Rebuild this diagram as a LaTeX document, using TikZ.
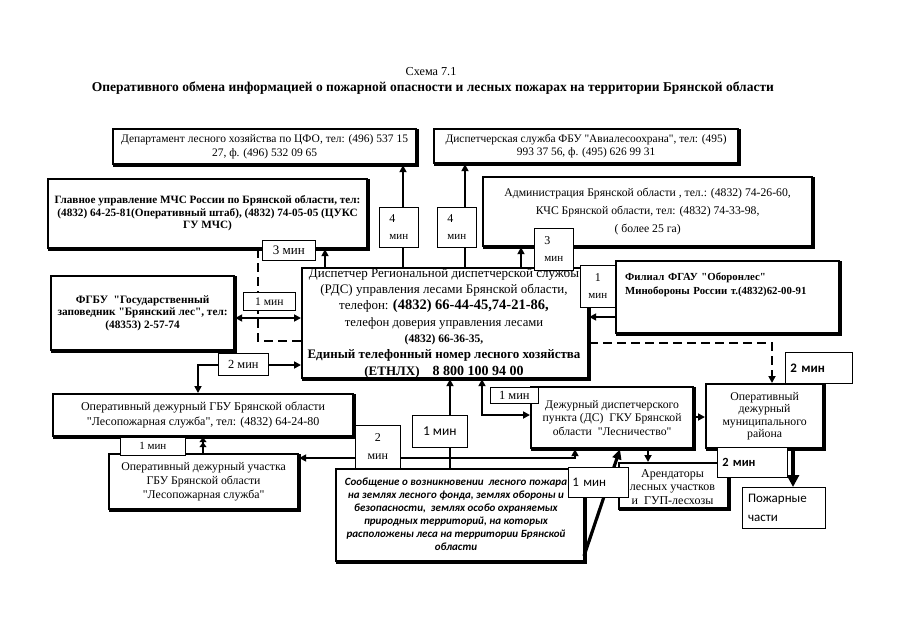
\documentclass[tikz,border=0pt]{standalone}
\usepackage{fontspec}
\setmainfont{Liberation Serif}[Ligatures=TeXOff]
\newfontfamily\carl{Carlito}[Ligatures=TeXOff]
\usetikzlibrary{arrows.meta}
\newcommand\fs[2]{\fontsize{#1}{#2}\selectfont}
\begin{document}
\begin{tikzpicture}[x=1pt,y=-1pt,
  box/.style={draw, line width=2.2pt, fill=white, anchor=north west, inner sep=1pt, align=center,
    preaction={draw, line width=2.2pt, transform canvas={shift={(1.4pt,-1.4pt)}}}},
  thinbox/.style={draw, line width=1.2pt, fill=white, anchor=north west, inner sep=1pt, align=left},
  lab/.style={draw, line width=0.7pt, fill=white, anchor=north west, inner sep=0pt, align=center},
  conn/.style={line width=1.7pt, -{Triangle[length=7pt,width=7pt]}},
  dconn/.style={line width=1.7pt, {Triangle[length=7pt,width=7pt]}-{Triangle[length=7pt,width=7pt]}},
  dash conn/.style={line width=1.7pt, dash pattern=on 9pt off 5pt},
  big conn/.style={line width=3.2pt, -{Triangle[length=12pt,width=12pt]}}
]
\useasboundingbox (0,0) rectangle (905,640);
\fill[white] (0,0) rectangle (905,640);

% title
\node[font=\fs{12.2}{14}] (t1) at (431,72) {Схема 7.1};
\node[font=\fs{13.5}{15}\bfseries] (t2) at (433,88) {Оперативного обмена информацией о пожарной опасности и лесных пожарах на территории Брянской области};

% boxes
\node[box, minimum width=303pt, minimum height=35pt, font=\fs{11.5}{13.5}] (A) at (112,128)
  {Департамент лесного хозяйства по ЦФО, тел: (496) 537 15\\27, ф. (496) 532 09 65};
\node[box, minimum width=304pt, minimum height=34pt, font=\fs{11.4}{13.5}] (B) at (433,128)
  {Диспетчерская служба ФБУ "Авиалесоохрана", тел: (495)\\993 37 56, ф. (495) 626 99 31};
\node[box, minimum width=319pt, minimum height=69pt, font=\fs{11.2}{12.5}\bfseries] (C) at (47,178)
  {Главное управление МЧС России по Брянской области, тел:\\(4832) 64-25-81(Оперативный штаб), (4832) 74-05-05 (ЦУКС\\ГУ МЧС)};
\node[box, minimum width=329pt, minimum height=69pt, font=\fs{11.7}{18}] (D) at (482,176)
  {Администрация Брянской области , тел.: (4832) 74-26-60,\\КЧС Брянской области, тел: (4832) 74-33-98,\\( более 25 га)};
\node[box, minimum width=286pt, minimum height=110pt] (E) at (301,267) {};
\node[font=\fs{13}{16.3}, align=center, inner sep=0pt] (Et) at (444,323)
  {Диспетчер Региональной диспетчерской службы\\(РДС) управления лесами Брянской области,\\телефон: {\fs{14.5}{16.3}\bfseries(4832) 66-44-45,74-21-86,}\\
   {\fs{12.7}{16.3}телефон доверия управления лесами}\\{\fs{11.5}{16.3}\bfseries (4832) 66-36-35,}\\
   \textbf{Единый телефонный номер лесного хозяйства}\\\textbf{(ЕТНЛХ)\quad{\fs{14}{16.3}8 800 100 94 00}}};
\node[box, minimum width=183pt, minimum height=74pt, font=\fs{11.3}{12.5}\bfseries] (F) at (50,275)
  {ФГБУ \ "Государственный\\заповедник "Брянский лес", тел:\\(48353) 2-57-74};
\node[box, minimum width=223pt, minimum height=72pt, align=left, text depth=40pt, text width=205pt, font=\fs{10.8}{14}\bfseries] (G) at (615,260)
  {Филиал ФГАУ "Оборонлес"\\Минобороны России т.(4832)62-00-91};
\node[box, minimum width=300pt, minimum height=42pt, font=\fs{12}{14.5}] (H) at (52,393)
  {Оперативный дежурный ГБУ Брянской области\\"Лесопожарная служба", тел: (4832) 64-24-80};
\node[box, minimum width=189pt, minimum height=55pt, font=\fs{11.8}{14}] (I) at (108,453)
  {Оперативный дежурный участка\\ГБУ Брянской области\\"Лесопожарная служба"};
\node[box, minimum width=248pt, minimum height=92pt] (J) at (335,468) {};
\node[font=\fs{11}{13}\carl\bfseries\itshape, align=center, inner sep=0pt] (Jt) at (456,514)
  {Сообщение о возникновении \ лесного пожара\\на землях лесного фонда, землях обороны и\\безопасности, \ землях особо охраняемых\\природных территорий, на которых\\расположены леса на территории Брянской\\области};
\node[box, minimum width=162pt, minimum height=61pt, font=\fs{11.7}{13.5}] (K) at (530,386)
  {Дежурный диспетчерского\\пункта (ДС) \ ГКУ Брянской\\области \ "Лесничество"};
\node[box, minimum width=117pt, minimum height=64pt, font=\fs{11.8}{12.5}] (L) at (705,383)
  {Оперативный\\дежурный\\муниципального\\района};
\node[box, minimum width=109pt, minimum height=45pt] (M) at (618,462) {};
\node[font=\fs{12}{13.5}, align=center, inner sep=0pt] (Mt) at (672.5,487)
  {Арендаторы\\лесных участков\\и \ ГУП-лесхозы};
\draw[line width=2.2pt] (M.south west) -- (M.south east);
\node[thinbox, minimum width=83pt, minimum height=41pt, text width=72pt, font=\fs{13}{19}\carl] (N) at (742,487)
  {Пожарные\\части};

% connectors
\draw[conn] (E.north -| 403,0) -- (A.south -| 403,0);
\draw[conn] (E.north -| 465,0) -- (B.south -| 465,0);
\draw[conn] (E.north -| 521,0) -- (D.south -| 521,0);
\draw[conn] (E.north -| 325,0) -- (C.south -| 325,0);
\draw[dash conn] (C.south -| 258,0) -- (258,341) -- (E.west |- 0,341);
\draw[dconn] (F.east |- 0,318) -- (E.west |- 0,318);
\draw[conn] (G.west |- 0,317) -- (E.east |- 0,317);
\draw[dash conn] (E.east |- 0,343) -- (772,343) -- (772,372);
\draw[conn] (772,370) -- (L.north -| 772,0);
\draw[dconn] (E.west |- 0,365) -- (198,365) -- (H.north -| 198,0);
\draw[line width=1.7pt, -{Triangle[length=5pt,width=7pt] Triangle[length=5pt,width=7pt]}] (I.north -| 203,0) -- (H.south -| 203,0);
\draw[dconn] (I.east |- 0,458) -- (575,458) -- (K.south -| 575,0);
\draw[conn] (J.north -| 450,0) -- (E.south -| 450,0);
\draw[dconn] (E.south -| 482,0) -- (482,415) -- (K.west |- 0,415);
\coordinate (jk) at (584,556);
\draw[line width=3.2pt, -{Triangle[length=10pt,width=9pt]}] (jk) -- (K.south -| 620,0);
\draw[conn] (K.east |- 0,417) -- (L.west |- 0,417);
\draw[conn] (K.south -| 648,0) -- (M.north -| 648,0);
\draw[big conn] (L.south -| 793,0) -- (N.north -| 793,0);

% labels
\node[lab, minimum width=39pt, minimum height=40pt, align=left] (l4a) at (379,207) {\fs{12}{12}4\\[5pt]\fs{11}{11}мин};
\node[lab, minimum width=39pt, minimum height=40pt, align=left] (l4b) at (437,207) {\fs{12}{12}4\\[5pt]\fs{11}{11}мин};
\node[lab, minimum width=39pt, minimum height=42pt, align=left] (l3r) at (534,228) {\fs{12}{12}3\\[5pt]\fs{11}{11}мин};
\node[lab, minimum width=53pt, minimum height=20pt, font=\fs{13}{13}] (l3l) at (262,240) {3 мин};
\node[lab, minimum width=52pt, minimum height=18pt, font=\fs{11.6}{12}] (l1f) at (243,292) {1 мин};
\node[lab, minimum width=50pt, minimum height=22pt, font=\fs{12.4}{13}] (l2f) at (218,353) {2 мин};
\node[lab, minimum width=35pt, minimum height=42pt] (l1g) at (580,265) {\fs{12}{12}1\\[5pt]\fs{11}{11}мин};
\node[lab, minimum width=65pt, minimum height=18pt, font=\fs{11}{12}] (l1i) at (120,437) {1 мин};
\node[lab, minimum width=45pt, minimum height=43pt] (l2j) at (355,425) {\fs{12}{12}2\\[6pt]\fs{12}{12}мин};
\node[lab, minimum width=55pt, minimum height=32pt, font=\fs{13.5}{14}\carl] (l1c) at (412,415) {1 мин};
\node[lab, minimum width=48pt, minimum height=16pt, font=\fs{12.5}{13}] (l1k) at (490,387) {1 мин};
\node[lab, minimum width=60pt, minimum height=30pt, font=\fs{13}{14}\carl, text width=52pt, align=left] (l1d) at (568,467) {1 мин};
\node[lab, minimum width=67pt, minimum height=31pt, font=\fs{13}{14}\carl\bfseries, text width=57pt, align=left] (l2u) at (785,352) {2 мин};
\node[lab, minimum width=70pt, minimum height=30pt, font=\fs{12.5}{14}\carl\bfseries, text width=60pt, align=left] (l2d) at (717,447) {2 мин};
\end{tikzpicture}
\end{document}
